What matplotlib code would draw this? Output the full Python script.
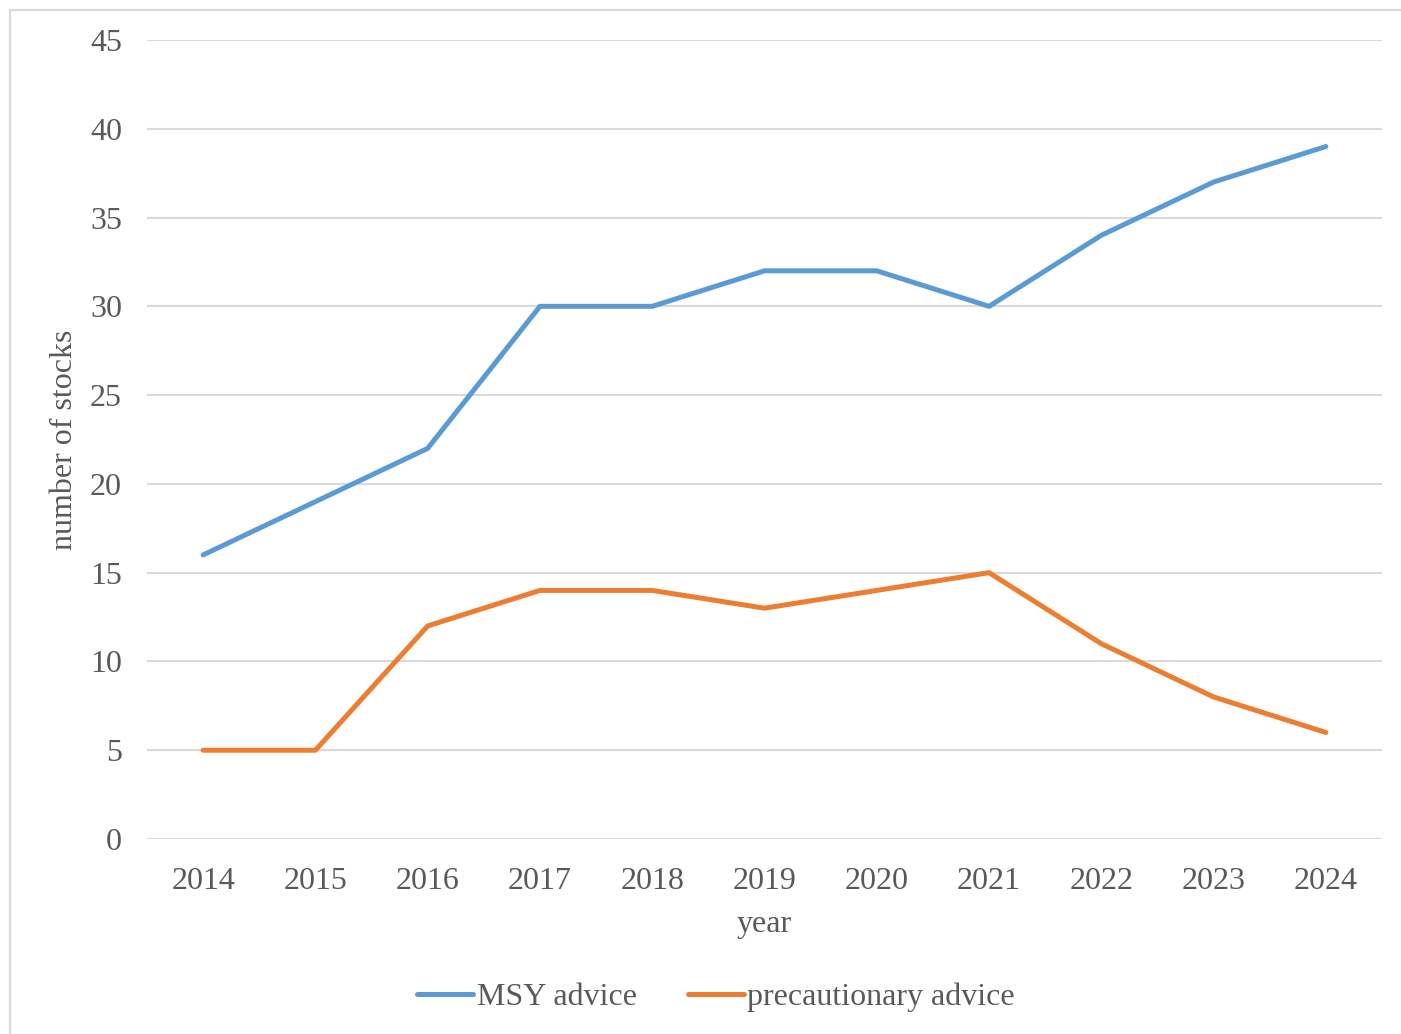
import numpy as np
import matplotlib.pyplot as plt
from matplotlib.patches import Rectangle

years = ['2014', '2015', '2016', '2017', '2018', '2019', '2020', '2021', '2022', '2023', '2024']
msy_advice = [16, 19, 22, 30, 30, 32, 32, 30, 34, 37, 39]
precautionary_advice = [5, 5, 12, 14, 14, 13, 14, 15, 11, 8, 6]

plt.rcParams['font.family'] = ['Liberation Serif', 'DejaVu Serif']
text_grey = '#595959'
fs = 23

fig = plt.figure(figsize=(14.01, 10.34), dpi=100)
ax = fig.add_axes([147 / 1401, 1 - 839 / 1034, (1382 - 147) / 1401, (839 - 40) / 1034])

# outer chart frame (left and top edges visible)
fig.patches.append(Rectangle((10 / 1401, -0.1), 2.0, 1.1 - 10 / 1034, transform=fig.transFigure,
                             fill=False, edgecolor='#D9D9D9', linewidth=1.5))

x = np.arange(len(years))
ax.plot(x, msy_advice, color='#5B9BD5', linewidth=3.6, solid_capstyle='round',
        solid_joinstyle='round', label='MSY advice')
ax.plot(x, precautionary_advice, color='#ED7D31', linewidth=3.6, solid_capstyle='round',
        solid_joinstyle='round', label='precautionary advice')

ax.set_xlim(-0.5, len(years) - 0.5)
ax.set_ylim(0, 45)
ax.set_yticks(range(0, 46, 5))
ax.set_xticks(x)
ax.set_xticklabels(years)
ax.grid(axis='y', color='#D9D9D9', linewidth=1.5)
ax.set_axisbelow(True)
for s in ax.spines.values():
    s.set_visible(False)
ax.tick_params(length=0, labelsize=fs, labelcolor=text_grey)
ax.tick_params(axis='x', pad=20)
ax.tick_params(axis='y', pad=18)

ax.set_xlabel('year', fontsize=fs, color=text_grey, labelpad=10)
ax.set_ylabel('number of stocks', fontsize=fs, color=text_grey, labelpad=8)

fig.legend(loc='center', bbox_to_anchor=(0.511, 1 - 997 / 1034), ncol=2, frameon=False,
           fontsize=fs, labelcolor=text_grey, handlelength=1.75, handletextpad=0.1,
           columnspacing=1.6)

fig.savefig('out.png', dpi=100)
